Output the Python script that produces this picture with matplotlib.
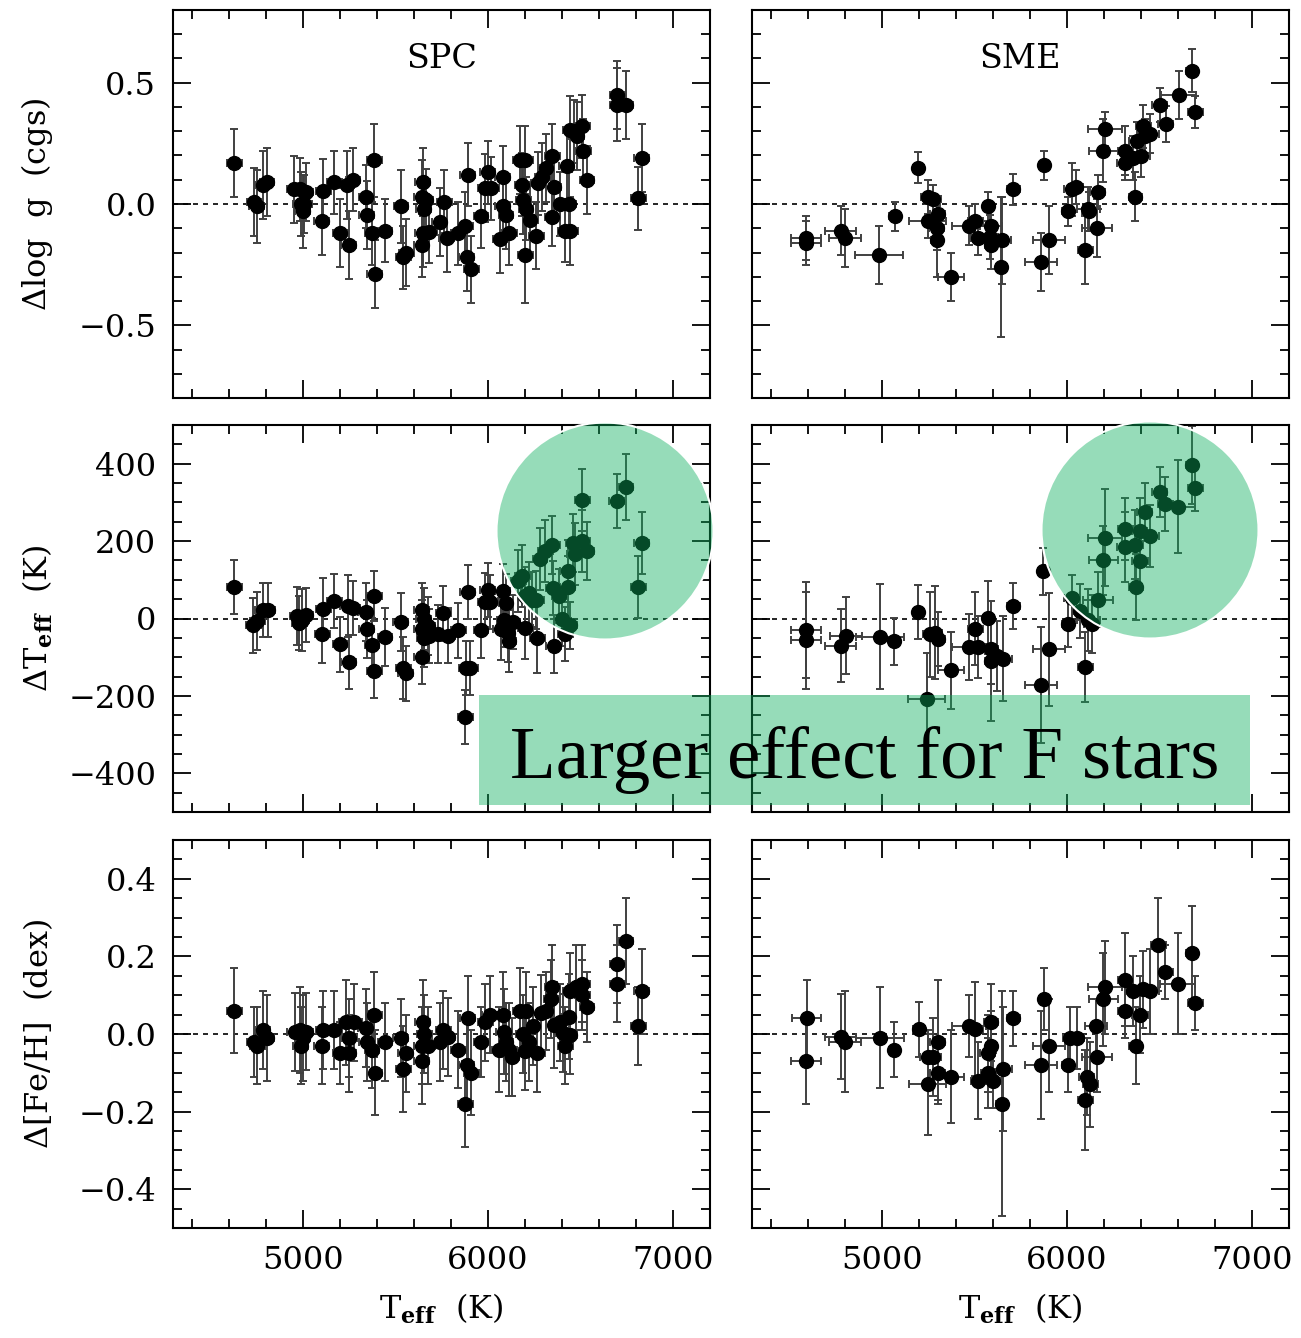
import matplotlib
matplotlib.use("Agg")
import matplotlib.pyplot as plt
import numpy as np
from matplotlib.patches import Circle, Rectangle
from matplotlib.ticker import MultipleLocator

plt.rcParams['font.family'] = 'DejaVu Serif'
plt.rcParams['mathtext.fontset'] = 'dejavuserif'

# ---- SPC: log g offsets
spc_logg_t = [4630, 4737, 4752, 4784, 4808, 4953, 4985, 5018, 4990, 5000,
              5009, 5112, 5103, 5172, 5203, 5240, 5272, 5248, 5343, 5347,
              5388, 5375, 5390, 5445, 5531, 5544, 5559, 5648, 5642, 5666,
              5653, 5648, 5642, 5685, 5741, 5766, 5779, 5841, 5879, 5892,
              5886, 5911, 5963, 5999, 5986, 6018, 6080, 6080, 6066, 6098,
              6117, 6174, 6202, 6187, 6192, 6206, 6230, 6202, 6262, 6273,
              6295, 6314, 6348, 6357, 6348, 6389, 6436, 6427, 6418, 6446,
              6446, 6465, 6480, 6511, 6515, 6536, 6699, 6699, 6746, 6831,
              6812]
spc_logg = [0.17, 0.01, -0.01, 0.08, 0.09, 0.06, 0.06, 0.05, 0.00, -0.03,
            0.00, 0.055, -0.07, 0.09, -0.12, 0.08, 0.10, -0.17, 0.03, -0.045,
            0.18, -0.12, -0.29, -0.11, -0.01, -0.22, -0.20, 0.09, 0.03, 0.015,
            -0.02, -0.12, -0.17, -0.115, -0.075, 0.01, -0.14, -0.12, -0.09, 0.12,
            -0.22, -0.27, -0.05, 0.13, 0.065, 0.065, 0.11, -0.01, -0.145, -0.045,
            -0.12, 0.18, 0.18, 0.08, 0.015, -0.02, -0.065, -0.21, -0.13, 0.085,
            0.11, 0.15, 0.20, 0.07, -0.055, 0.00, 0.00, 0.155, -0.11, -0.11,
            0.305, 0.30, 0.28, 0.32, 0.22, 0.10, 0.45, 0.41, 0.41, 0.19,
            0.023]
spc_logg_err = [0.14, 0.14, 0.15, 0.14, 0.14, 0.14, 0.13, 0.12, 0.13, 0.15,
                0.12, 0.13, 0.14, 0.13, 0.14, 0.14, 0.13, 0.14, 0.13, 0.14,
                0.15, 0.13, 0.14, 0.13, 0.15, 0.13, 0.14, 0.14, 0.15, 0.13,
                0.13, 0.14, 0.13, 0.13, 0.14, 0.13, 0.14, 0.13, 0.14, 0.13,
                0.14, 0.14, 0.13, 0.13, 0.14, 0.13, 0.13, 0.13, 0.14, 0.14,
                0.13, 0.14, 0.14, 0.13, 0.14, 0.13, 0.14, 0.20, 0.14, 0.13,
                0.14, 0.14, 0.13, 0.13, 0.12, 0.13, 0.13, 0.14, 0.13, 0.14,
                0.14, 0.13, 0.14, 0.13, 0.13, 0.14, 0.14, 0.15, 0.14, 0.14,
                0.13]

# ---- SME: log g offsets
sme_logg_t = [4591, 4591, 4778, 4802, 4987, 5072, 5198, 5252, 5279, 5303,
              5249, 5297, 5297, 5373, 5472, 5505, 5523, 5577, 5591, 5586,
              5589, 5649, 5645, 5712, 5861, 5879, 5904, 6005, 6027, 6050,
              6099, 6117, 6121, 6166, 6162, 6198, 6207, 6315, 6312, 6369,
              6360, 6378, 6402, 6414, 6423, 6450, 6501, 6535, 6604, 6676,
              6694]
sme_logg = [-0.14, -0.16, -0.11, -0.14, -0.21, -0.05, 0.15, 0.03, 0.02, -0.04,
            -0.07, -0.10, -0.15, -0.30, -0.09, -0.07, -0.14, -0.01, -0.09, -0.135,
            -0.17, -0.15, -0.26, 0.06, -0.24, 0.16, -0.15, -0.03, 0.06, 0.07,
            -0.19, -0.02, -0.03, 0.05, -0.10, 0.22, 0.31, 0.22, 0.17, 0.03,
            0.19, 0.26, 0.20, 0.32, 0.28, 0.29, 0.41, 0.33, 0.45, 0.55,
            0.38]
sme_logg_err = [0.09, 0.09, 0.10, 0.12, 0.12, 0.06, 0.065, 0.07, 0.06, 0.06,
                0.07, 0.09, 0.15, 0.10, 0.08, 0.07, 0.07, 0.06, 0.08, 0.09,
                0.10, 0.18, 0.29, 0.065, 0.12, 0.06, 0.14, 0.06, 0.11, 0.07,
                0.14, 0.09, 0.08, 0.07, 0.12, 0.13, 0.07, 0.10, 0.07, 0.10,
                0.09, 0.08, 0.09, 0.09, 0.07, 0.08, 0.07, 0.075, 0.10, 0.09,
                0.065]
sme_logg_terr = [80, 80, 85, 85, 130, 30, 30, 40, 40, 40,
                 100, 40, 30, 70, 90, 40, 40, 30, 60, 40,
                 30, 50, 30, 35, 85, 30, 85, 30, 40, 40,
                 40, 60, 40, 40, 80, 80, 90, 30, 40, 35,
                 40, 40, 45, 40, 40, 50, 40, 40, 95, 30,
                 40]

# ---- SPC: Teff offsets
spc_teff_t = [4630, 4733, 4756, 4784, 4812, 4971, 4996, 5018, 4981, 5112,
              5107, 5172, 5203, 5244, 5272, 5248, 5341, 5388, 5347, 5375,
              5388, 5445, 5529, 5544, 5557, 5642, 5653, 5676, 5642, 5657,
              5685, 5642, 5760, 5732, 5783, 5841, 5892, 5882, 5905, 5879,
              5963, 5999, 5986, 6014, 6080, 6098, 6070, 6089, 6108, 6112,
              6136, 6164, 6187, 6202, 6220, 6239, 6262, 6202, 6267, 6282,
              6310, 6348, 6352, 6386, 6399, 6442, 6431, 6431, 6357, 6418,
              6461, 6470, 6511, 6511, 6536, 6696, 6746, 6831, 6812]
spc_teff = [81, -18, -7, 21, 22, 6, -3, 8, -11, 25,
            -41, 45, -67, 32, 28, -112, 17, 58, -28, -68,
            -136, -47, -9, -128, -142, 22, -1, -20, -28, -50,
            -46, -100, 13, -41, -44, -31, 69, -128, -128, -254,
            -31, 73, 42, 42, 71, 41, -28, -3, -37, -59,
            -9, 97, 109, 58, 66, 49, 49, -24, -50, 153,
            174, 191, 79, 58, -1, -18, 122, 82, -70, -41,
            196, 166, 306, 200, 174, 303, 340, 194, 82]
spc_teff_err = [70, 70, 75, 70, 70, 75, 80, 70, 70, 80,
                75, 70, 70, 80, 70, 70, 75, 65, 75, 70,
                70, 75, 75, 80, 70, 70, 80, 75, 75, 75,
                70, 70, 70, 75, 70, 70, 70, 70, 70, 70,
                70, 70, 75, 70, 70, 75, 80, 70, 75, 80,
                70, 80, 80, 75, 80, 70, 75, 80, 90, 80,
                80, 75, 70, 70, 70, 60, 80, 80, 70, 70,
                75, 80, 80, 80, 75, 70, 85, 80, 80]

# ---- SME: Teff offsets
sme_teff_t = [4591, 4591, 4778, 4807, 4991, 5068, 5198, 5261, 5288, 5303,
              5243, 5373, 5472, 5505, 5523, 5577, 5591, 5589, 5622, 5654,
              5712, 5861, 5874, 5904, 6005, 6027, 6072, 6099, 6117, 6135,
              6168, 6198, 6207, 6315, 6312, 6373, 6369, 6396, 6393, 6420,
              6450, 6501, 6532, 6600, 6676, 6694]
sme_teff = [-30, -56, -70, -44, -47, -59, 16, -41, -37, -54,
            -209, -134, -74, -26, -74, 2, -80, -110, -97, -104,
            32, -172, 122, -80, -13, 53, 19, -125, -3, -14,
            49, 150, 209, 232, 184, 81, 191, 148, 226, 275,
            213, 327, 295, 289, 397, 338]
sme_teff_err = [125, 125, 95, 100, 135, 60, 70, 110, 120, 70,
                120, 100, 85, 95, 80, 95, 90, 155, 90, 110,
                60, 150, 60, 145, 60, 60, 70, 90, 80, 75,
                70, 90, 125, 80, 90, 85, 90, 75, 85, 75,
                80, 65, 70, 120, 100, 60]
sme_teff_terr = [80, 80, 85, 85, 130, 30, 30, 40, 40, 40,
                 100, 70, 90, 40, 40, 30, 40, 30, 40, 50,
                 35, 85, 30, 85, 30, 40, 40, 40, 60, 40,
                 80, 80, 90, 40, 40, 35, 40, 45, 40, 40,
                 50, 40, 40, 95, 30, 40]

# ---- SPC: [Fe/H] offsets
spc_feh_t = [4630, 4737, 4756, 4784, 4808, 4958, 4985, 5018, 4990, 5000,
             5112, 5103, 5172, 5203, 5234, 5278, 5253, 5248, 5341, 5347,
             5388, 5375, 5390, 5445, 5529, 5557, 5544, 5648, 5657, 5642,
             5676, 5642, 5760, 5741, 5783, 5841, 5892, 5886, 5911, 5879,
             5963, 5986, 6010, 6080, 6085, 6061, 6098, 6117, 6130, 6174,
             6206, 6192, 6220, 6202, 6267, 6245, 6286, 6314, 6348, 6343,
             6357, 6389, 6408, 6436, 6442, 6418, 6446, 6474, 6511, 6511,
             6536, 6699, 6699, 6746, 6831, 6812]
spc_feh = [0.06, -0.02, -0.03, 0.01, -0.01, 0.005, 0.01, 0.006, -0.03, -0.01,
           0.01, -0.03, 0.01, -0.05, 0.03, 0.03, -0.01, -0.05, 0.015, -0.02,
           0.05, -0.04, -0.10, -0.02, -0.01, -0.05, -0.09, 0.03, 0.00, -0.03,
           -0.03, -0.07, 0.01, -0.02, -0.007, -0.04, 0.04, -0.08, -0.10, -0.18,
           -0.02, 0.03, 0.05, 0.05, 0.006, -0.04, -0.02, -0.04, -0.06, 0.06,
           0.06, 0.00, -0.02, -0.045, -0.05, 0.02, 0.053, 0.06, 0.12, 0.09,
           0.023, 0.03, 0.002, 0.045, -0.003, -0.03, 0.11, 0.12, 0.13, 0.10,
           0.07, 0.18, 0.13, 0.24, 0.11, 0.02]
spc_feh_err = [0.11, 0.09, 0.10, 0.10, 0.11, 0.10, 0.11, 0.10, 0.10, 0.11,
               0.10, 0.10, 0.10, 0.08, 0.11, 0.10, 0.10, 0.10, 0.10, 0.10,
               0.11, 0.10, 0.11, 0.10, 0.10, 0.10, 0.11, 0.11, 0.10, 0.10,
               0.10, 0.11, 0.10, 0.10, 0.10, 0.10, 0.11, 0.11, 0.11, 0.11,
               0.09, 0.10, 0.10, 0.11, 0.11, 0.11, 0.10, 0.12, 0.10, 0.11,
               0.10, 0.10, 0.10, 0.10, 0.10, 0.10, 0.10, 0.10, 0.11, 0.10,
               0.11, 0.10, 0.10, 0.11, 0.10, 0.10, 0.10, 0.11, 0.10, 0.09,
               0.09, 0.10, 0.10, 0.11, 0.11, 0.10]

# ---- SME: [Fe/H] offsets
sme_feh_t = [4595, 4591, 4778, 4802, 4991, 5068, 5202, 5249, 5279, 5303,
             5303, 5249, 5373, 5472, 5505, 5523, 5591, 5591, 5573, 5577,
             5604, 5654, 5649, 5712, 5861, 5879, 5904, 6005, 6018, 6054,
             6108, 6126, 6099, 6162, 6157, 6198, 6207, 6315, 6315, 6360,
             6373, 6396, 6414, 6447, 6495, 6532, 6600, 6676, 6694]
sme_feh = [0.04, -0.07, -0.007, -0.02, -0.01, -0.04, 0.012, -0.06, -0.06, -0.02,
           -0.10, -0.13, -0.11, 0.02, 0.013, -0.12, 0.03, -0.03, -0.05, -0.10,
           -0.12, -0.09, -0.18, 0.04, -0.08, 0.09, -0.03, -0.08, -0.01, -0.01,
           -0.11, -0.13, -0.17, -0.06, 0.02, 0.09, 0.12, 0.06, 0.14, 0.11,
           -0.03, 0.05, 0.115, 0.11, 0.23, 0.16, 0.13, 0.21, 0.08]
sme_feh_err = [0.10, 0.11, 0.11, 0.13, 0.13, 0.07, 0.07, 0.07, 0.10, 0.16,
               0.07, 0.13, 0.12, 0.08, 0.12, 0.10, 0.10, 0.09, 0.10, 0.09,
               0.07, 0.16, 0.29, 0.07, 0.14, 0.08, 0.12, 0.07, 0.08, 0.08,
               0.10, 0.11, 0.13, 0.09, 0.07, 0.12, 0.12, 0.07, 0.12, 0.09,
               0.10, 0.10, 0.10, 0.11, 0.12, 0.07, 0.13, 0.12, 0.07]
sme_feh_terr = [80, 80, 85, 85, 130, 30, 30, 40, 40, 40,
                40, 100, 70, 90, 40, 40, 40, 30, 40, 40,
                40, 50, 30, 35, 85, 30, 85, 30, 40, 40,
                40, 40, 40, 80, 60, 80, 90, 40, 40, 40,
                35, 45, 40, 50, 40, 40, 95, 30, 40]

spc_terr = 40  # typical SPC Teff error

W, H = 1301, 1338
fig = plt.figure(figsize=(W / 100, H / 100), dpi=100)

col_x = [173, 752]
col_w = 537
row_y = [(10, 398), (425, 812), (840, 1228)]


def make_ax(col, row):
    top, bot = row_y[row]
    return fig.add_axes([col_x[col] / W, 1 - bot / H, col_w / W, (bot - top) / H])


rows = [
    dict(ylim=(-0.8, 0.8), major=0.5, minor=0.1, fmt='{:.1f}',
         label=r'$\Delta$log  g  (cgs)',
         spc=(spc_logg_t, spc_logg, spc_logg_err),
         sme=(sme_logg_t, sme_logg, sme_logg_err, sme_logg_terr)),
    dict(ylim=(-500, 500), major=200, minor=50, fmt='{:.0f}',
         label=r'$\Delta$T$_{\mathbf{eff}}$  (K)',
         spc=(spc_teff_t, spc_teff, spc_teff_err),
         sme=(sme_teff_t, sme_teff, sme_teff_err, sme_teff_terr)),
    dict(ylim=(-0.5, 0.5), major=0.2, minor=0.05, fmt='{:.1f}',
         label=r'$\Delta$[Fe/H]  (dex)',
         spc=(spc_feh_t, spc_feh, spc_feh_err),
         sme=(sme_feh_t, sme_feh, sme_feh_err, sme_feh_terr)),
]

for r, cfg in enumerate(rows):
    for c in range(2):
        ax = make_ax(c, r)
        if c == 0:
            t, d, e = cfg['spc']
            te = spc_terr
        else:
            t, d, e, te = cfg['sme']
        ax.axhline(0, color='k', lw=1.2, ls=(0, (3, 3)), zorder=1)
        ax.errorbar(t, d, yerr=e, xerr=te, fmt='o', color='k', ms=10,
                    ecolor='0.25', elinewidth=1.4, capsize=3, capthick=1.4,
                    zorder=2)
        ax.set_xlim(4300, 7200)
        ax.set_ylim(*cfg['ylim'])
        ax.xaxis.set_major_locator(MultipleLocator(1000))
        ax.xaxis.set_minor_locator(MultipleLocator(200))
        ax.yaxis.set_major_locator(MultipleLocator(cfg['major']))
        ax.yaxis.set_minor_locator(MultipleLocator(cfg['minor']))
        ax.tick_params(which='both', direction='in', top=True, right=True,
                       labelsize=23, width=1.3)
        ax.tick_params(which='major', length=13, pad=12)
        ax.tick_params(which='minor', length=6.5)
        for sp in ax.spines.values():
            sp.set_linewidth(1.5)
        if r < 2:
            ax.tick_params(labelbottom=False)
        else:
            ax.set_xlabel(r'T$_{\mathbf{eff}}$  (K)', fontsize=23, labelpad=12)
        if c == 1:
            ax.tick_params(labelleft=False)
        else:
            fmt = cfg['fmt']
            ax.yaxis.set_major_formatter(
                plt.FuncFormatter(lambda v, p, f=fmt: f.format(v).replace('-', '\u2212')))
            ax.set_ylabel(cfg['label'], fontsize=23)
            ax.yaxis.set_label_coords(-0.22, 0.5)
        if r == 0:
            ax.text(0.5, 0.875, 'SPC' if c == 0 else 'SME', transform=ax.transAxes,
                    ha='center', va='center', fontsize=24)

# highlight overlays
green = '#0cae5d'
inch = fig.dpi_scale_trans
for cx, cy in [(605, 531), (1150, 530)]:
    fig.patches.append(Circle((cx / 100, (H - cy) / 100), 1.085, transform=inch,
                              facecolor=green, alpha=0.43, edgecolor='none', zorder=5))
    fig.patches.append(Circle((cx / 100, (H - cy) / 100), 1.085, transform=inch,
                              facecolor='none', edgecolor='white', lw=1.5, zorder=6))
fig.patches.append(Rectangle((479 / 100, (H - 805) / 100), 7.71, 1.10, transform=inch,
                             facecolor=green, alpha=0.43, edgecolor='none', zorder=5))
fig.text(865 / W, 1 - 778 / H, 'Larger effect for F stars', ha='center', va='baseline',
         fontsize=54, family='Liberation Serif', zorder=7)

fig.savefig('out.png', dpi=100)
